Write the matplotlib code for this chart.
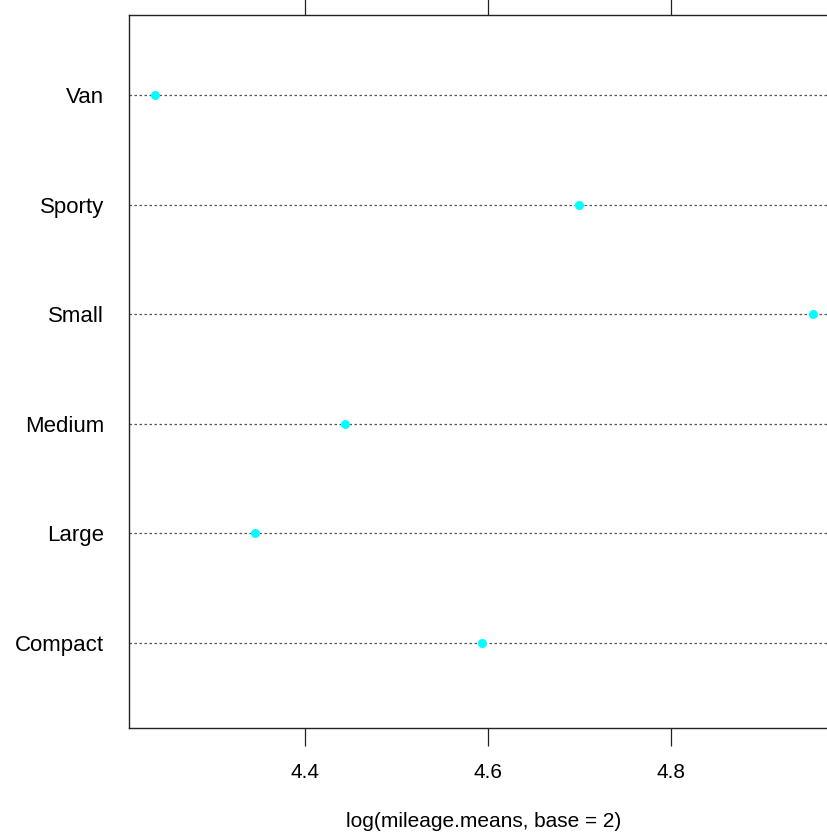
import matplotlib
matplotlib.use("Agg")
import matplotlib.pyplot as plt

categories = ["Compact", "Large", "Medium", "Small", "Sporty", "Van"]
values = [4.593, 4.345, 4.444, 4.955, 4.700, 4.236]
xticks = [4.4, 4.6, 4.8]
xticklabels = ["4.4", "4.6", "4.8"]

plt.rcParams['font.family'] = ['Liberation Sans', 'DejaVu Sans']

W, H = 828, 840
fig = plt.figure(figsize=(W / 100, H / 100), dpi=100)
ax = fig.add_axes([129 / W, (H - 728) / H, 710 / W, 713 / H])

ypos = list(range(1, len(categories) + 1))
for y in ypos:
    ax.axhline(y, color="#555555", lw=0.9, ls=(0, (2, 2)), zorder=1)
ax.plot(values, ypos, "o", color="#00FFFF", ms=6.5, mec="none", zorder=3)

ax.set_xlim(4.2077, 4.9836)
ax.set_ylim(0.224, 6.73)
ax.set_yticks(ypos)
ax.set_yticklabels(categories, fontsize=16)
ax.tick_params(axis="y", length=0, pad=18)
ax.set_xticks(xticks)
ax.set_xticklabels(xticklabels, fontsize=15)
ax.tick_params(axis="x", direction="out", length=13, width=0.9, colors="#222222",
               labelcolor="black", top=True, labeltop=False, pad=12)
for s in ax.spines.values():
    s.set_linewidth(1.0)
    s.set_color("#222222")
ax.set_xlabel("log(mileage.means, base = 2)", fontsize=15, labelpad=22)

fig.savefig("out.png", dpi=100)
